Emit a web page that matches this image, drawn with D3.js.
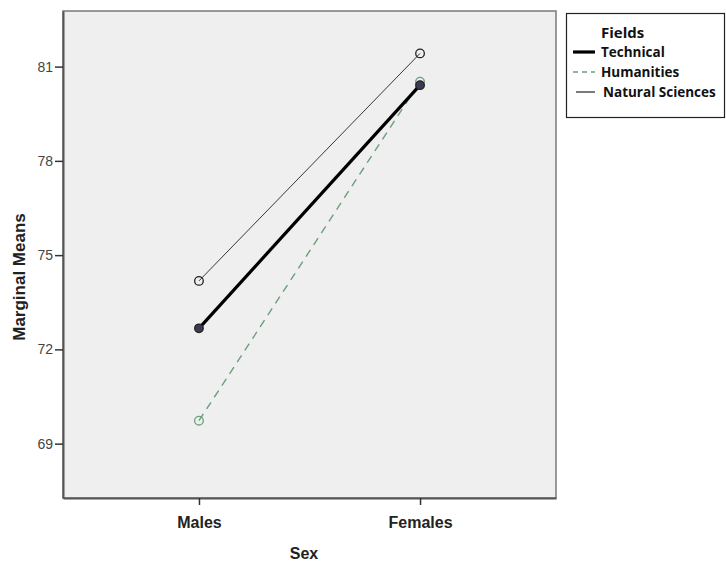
<!DOCTYPE html>
<html><head><meta charset="utf-8">
<script src="https://cdn.jsdelivr.net/npm/d3@7"></script>
<style>body{margin:0;background:#fff}</style>
</head><body>
<svg id="c" width="726" height="564"></svg>
<script>
const categories = ["Males", "Females"];
const seriesNames = ["Technical", "Humanities", "Natural Sciences"];
const technical = [72.67, 80.41];
const humanities = [69.73, 80.52];
const naturalSciences = [74.18, 81.42];
const yTicks = [69, 72, 75, 78, 81];

const series = [
  {name: seriesNames[0], values: technical, color: "#000", width: 3.2, dash: null, mfill: "#3b3b55", mstroke: "#222"},
  {name: seriesNames[1], values: humanities, color: "#6a9f7c", width: 1.4, dash: "8,6", mfill: "none", mstroke: "#6a9f7c"},
  {name: seriesNames[2], values: naturalSciences, color: "#222", width: 0.9, dash: null, mfill: "none", mstroke: "#222"}
];

const svg = d3.select("#c");
const L = 63, T = 11, R = 556, B = 498;
const x = d3.scalePoint().domain(categories).range([L, R]).padding(0.615);
const y = d3.scaleLinear().domain([67.27, 82.77]).range([B, T]);
const af = "Arial, 'Liberation Sans', sans-serif";

svg.append("rect").attr("x", L).attr("y", T).attr("width", R - L).attr("height", B - T)
  .attr("fill", "#efefef").attr("stroke", "#7a7a7a").attr("stroke-width", 1.5);

const yAxis = svg.append("g").attr("transform", `translate(${L},0)`)
  .call(d3.axisLeft(y).tickValues(yTicks).tickSize(8).tickSizeOuter(0));
yAxis.select(".domain").attr("stroke", "#555").attr("stroke-width", 2);
yAxis.selectAll(".tick line").attr("stroke", "#333").attr("stroke-width", 1.5);
yAxis.selectAll(".tick text").attr("font-family", af)
  .attr("font-size", 14).attr("fill", "#444").attr("x", -10);

const xAxis = svg.append("g").attr("transform", `translate(0,${B})`)
  .call(d3.axisBottom(x).tickSize(7).tickSizeOuter(0));
xAxis.select(".domain").attr("stroke", "#555").attr("stroke-width", 2);
xAxis.selectAll(".tick line").attr("stroke", "#333").attr("stroke-width", 1.5);
xAxis.selectAll(".tick text").attr("font-family", af)
  .attr("font-size", 16).attr("font-weight", "bold").attr("fill", "#222")
  .attr("y", 30).attr("dy", 0);

svg.append("text").attr("transform", `translate(25,277) rotate(-90)`)
  .attr("text-anchor", "middle").attr("font-family", af)
  .attr("font-size", 17).attr("font-weight", "bold").attr("fill", "#222").text("Marginal Means");
svg.append("text").attr("x", 304).attr("y", 559).attr("text-anchor", "middle")
  .attr("font-family", af)
  .attr("font-size", 16).attr("font-weight", "bold").attr("fill", "#222").text("Sex");

const line = d3.line().x((d, i) => x(categories[i])).y(d => y(d));
const order = [1, 2, 0];
order.forEach(k => {
  const s = series[k];
  svg.append("path").attr("d", line(s.values)).attr("fill", "none")
    .attr("stroke", s.color).attr("stroke-width", s.width)
    .attr("stroke-dasharray", s.dash);
});
order.forEach(k => {
  const s = series[k];
  svg.selectAll(null).data(s.values).enter().append("circle")
    .attr("cx", (d, i) => x(categories[i])).attr("cy", d => y(d)).attr("r", 4.3)
    .attr("fill", s.mfill).attr("stroke", s.mstroke).attr("stroke-width", 1.3);
});

// Legend
const lg = svg.append("g");
lg.append("rect").attr("x", 566.5).attr("y", 13.5).attr("width", 158).attr("height", 104)
  .attr("fill", "#fff").attr("stroke", "#222").attr("stroke-width", 1.2);
const lf = "'Open Sans', Lato, sans-serif";
lg.append("text").attr("x", 601).attr("y", 38).attr("font-family", lf).attr("font-size", 15)
  .attr("font-weight", "bold").attr("fill", "#111").text("Fields");
const ly = [52, 72, 92];
series.forEach((s, i) => {
  lg.append("line").attr("x1", i === 2 ? 576 : 573).attr("x2", 595).attr("y1", ly[i]).attr("y2", ly[i])
    .attr("stroke", s.color).attr("stroke-width", i === 0 ? 3.2 : (i === 1 ? 1.4 : 1.2))
    .attr("stroke-dasharray", i === 1 ? "5,4" : null);
  lg.append("text").attr("x", i === 2 ? 603 : 601).attr("y", ly[i] + 5).attr("font-family", lf)
    .attr("font-size", 13.5).attr("font-weight", "bold").attr("fill", "#111").text(s.name);
});
</script>
</body></html>
